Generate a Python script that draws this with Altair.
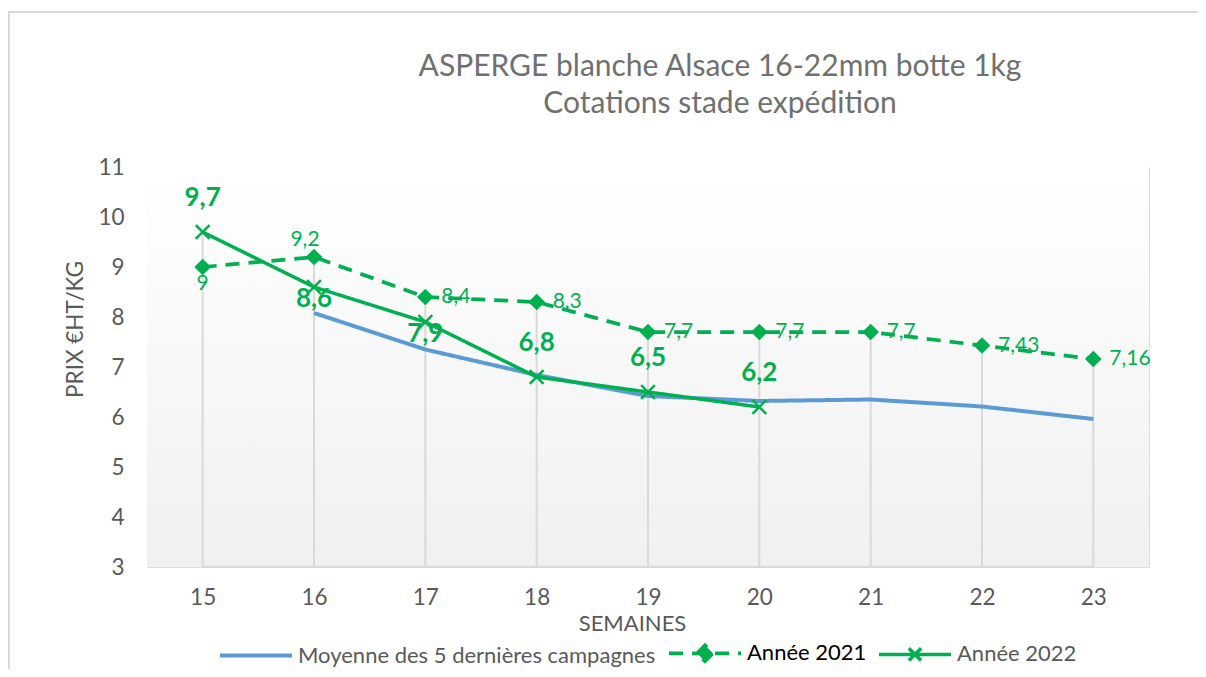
import altair as alt
import pandas as pd

# ---- data ----
weeks = [15, 16, 17, 18, 19, 20, 21, 22, 23]
moyenne = [None, 8.08, 7.35, 6.84, 6.42, 6.32, 6.35, 6.21, 5.96]
annee_2021 = [9, 9.2, 8.4, 8.3, 7.7, 7.7, 7.7, 7.43, 7.16]
annee_2022 = [9.7, 8.6, 7.9, 6.8, 6.5, 6.2, None, None, None]
series_names = ["Moyenne des 5 dernières campagnes", "Année 2021", "Année 2022"]
y_ticks = [3, 4, 5, 6, 7, 8, 9, 10, 11]
title_lines = ["ASPERGE blanche Alsace 16-22mm botte 1kg", "Cotations stade expédition"]
x_title = "SEMAINES"
y_title = "PRIX €HT/KG"

BLUE = "#5B9BD5"
GREEN = "#00B050"
GRAY_TXT = "#595959"
FONT = "Lato"

rows = []
for name, vals in zip(series_names, [moyenne, annee_2021, annee_2022]):
    for w, v in zip(weeks, vals):
        if v is not None:
            rows.append({"week": w, "value": v, "series": name})
df = pd.DataFrame(rows)

W, H = 1002, 400

xscale = alt.Scale(domain=[14.5, 23.5], nice=False, zero=False)
yscale = alt.Scale(domain=[3, 11], nice=False, zero=False)
xaxis = alt.Axis(values=weeks, format="d", title=x_title, grid=False, ticks=False, tickSize=0,
                 domain=False, labelFont=FONT, labelFontSize=22.5, labelColor=GRAY_TXT,
                 labelPadding=19, titleFont=FONT, titleFontSize=22, titleColor=GRAY_TXT,
                 titleFontWeight="normal", titleX=485, titleY=56, titleBaseline="middle")
yaxis = alt.Axis(values=y_ticks, title=y_title, grid=False, ticks=False, tickSize=0,
                 domain=False, labelFont=FONT, labelFontSize=22.5, labelColor=GRAY_TXT,
                 labelPadding=23, titleFont=FONT, titleFontSize=22.5, titleColor=GRAY_TXT,
                 titleFontWeight="normal", titleX=-72, titleY=162, titleAngle=-90,
                 titleAlign="center", titleBaseline="middle")

X = alt.X("week:Q", scale=xscale, axis=xaxis)
Y = alt.Y("value:Q", scale=yscale, axis=yaxis)

one = alt.Data(values=[{}])

sym_expr = (
    "datum.value === 'Année 2021' ? 'M-1,0L1,0M-0.22,0L0,-0.22L0.22,0L0,0.22Z' : "
    "datum.value === 'Année 2022' ? 'M-1,0L1,0M-0.17,-0.17L0.17,0.17M-0.17,0.17L0.17,-0.17' : "
    "'M-1,0L1,0'"
)
legend = alt.Legend(
    orient="none", legendX=71, legendY=448, direction="horizontal", title=None,
    labelFont=FONT, labelFontSize=22,
    labelColor={"expr": "datum.value === 'Année 2021' ? '#000000' : '#595959'"},
    symbolType={"expr": sym_expr},
    symbolFillColor={"expr": "datum.value === 'Année 2021' ? '#00B050' : 'transparent'"},
    symbolSize=5184, symbolStrokeWidth=4, labelOffset=4, columnPadding=5, padding=0,
    labelLimit=0,
)

background = alt.Chart(one).mark_rect(
    color=alt.Gradient(gradient="linear",
                       stops=[alt.GradientStop(color="#ffffff", offset=0),
                              alt.GradientStop(color="#f0f0f0", offset=1)],
                       x1=0, x2=0, y1=0, y2=1)
).encode(x=alt.value(0), x2=alt.value(W), y=alt.value(0), y2=alt.value(H))

frame = alt.Chart(one).mark_rect(fill="transparent", stroke="#d9d9d9", strokeWidth=2).encode(
    x=alt.value(-138), x2=alt.value(1100), y=alt.value(-155), y2=alt.value(560)
)

drops = alt.Chart(df).transform_aggregate(
    top="max(value)", groupby=["week"]
).mark_rule(color="#d9d9d9", strokeWidth=2).encode(
    x=X, y=alt.Y("top:Q", scale=yscale, axis=yaxis), y2=alt.datum(3)
)

axis_line = alt.Chart(one).mark_rule(color="#d9d9d9", strokeWidth=2).encode(
    x=alt.datum(weeks[0], scale=xscale), x2=alt.datum(weeks[-1]), y=alt.datum(3, scale=yscale)
)

lines = alt.Chart(df).mark_line().encode(
    x=X, y=Y,
    color=alt.Color("series:N", scale=alt.Scale(domain=series_names, range=[BLUE, GREEN, GREEN]),
                    legend=legend),
    strokeDash=alt.StrokeDash("series:N",
                              scale=alt.Scale(domain=series_names, range=[[1, 0], [14, 9], [1, 0]]),
                              legend=legend),
    strokeWidth=alt.StrokeWidth("series:N",
                                scale=alt.Scale(domain=series_names, range=[4, 3.5, 3.5]),
                                legend=None),
    order="week:Q",
)

s21 = alt.Chart(df).transform_filter(alt.datum.series == series_names[1]).transform_calculate(
    label="replace(toString(datum.value), '.', ',')")
s22 = alt.Chart(df).transform_filter(alt.datum.series == series_names[2]).transform_calculate(
    label="replace(toString(datum.value), '.', ',')")

pts21 = s21.mark_point(shape="diamond", filled=True, size=280, color=GREEN, opacity=1).encode(x=X, y=Y)
pts22 = s22.mark_point(shape="M-1,-1L1,1M-1,1L1,-1", filled=False, size=190, strokeWidth=2.5,
                       color=GREEN, opacity=1).encode(x=X, y=Y)

lab22_up = s22.transform_filter(
    ~alt.FieldOneOfPredicate(field="week", oneOf=[16, 17])
).mark_text(dy=-34, font=FONT, fontSize=26, fontWeight="bold", color=GREEN).encode(x=X, y=Y, text="label:N")
lab22_dn = s22.transform_filter(
    alt.FieldOneOfPredicate(field="week", oneOf=[16, 17])
).mark_text(dy=12, font=FONT, fontSize=26, fontWeight="bold", color=GREEN).encode(x=X, y=Y, text="label:N")

lab21_right = s21.transform_filter(alt.datum.week >= 17).mark_text(
    dx=16, align="left", font=FONT, fontSize=21, color=GREEN).encode(x=X, y=Y, text="label:N")
lab21_below = s21.transform_filter(alt.datum.week == 15).mark_text(
    dy=17, font=FONT, fontSize=21, color=GREEN).encode(x=X, y=Y, text="label:N")
lab21_above = s21.transform_filter(alt.datum.week == 16).mark_text(
    dy=-17, dx=-9, font=FONT, fontSize=21, color=GREEN).encode(x=X, y=Y, text="label:N")

chart = alt.layer(
    frame, background, drops, axis_line, lines, pts21, pts22,
    lab21_right, lab21_below, lab21_above, lab22_up, lab22_dn,
).properties(
    width=W, height=H,
    padding={"left": 139, "top": 159, "right": 49, "bottom": 102},
    autosize=alt.AutoSizeParams(type="none"),
    title=alt.TitleParams(text=title_lines, font=FONT, fontSize=30, color="#707070",
                          fontWeight="normal", anchor="middle", dx=72, offset=-108, lineHeight=37),
).configure_view(stroke=None).configure(background="white")

chart.save("out.html", embed_options={"renderer": "svg", "actions": False})
